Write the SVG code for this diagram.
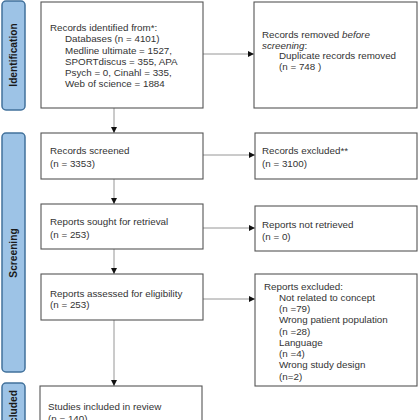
<svg xmlns="http://www.w3.org/2000/svg" width="420" height="420" viewBox="0 0 420 420">
<style>
.bar{fill:#9dc3e6;stroke:#41719c;stroke-width:1.5}
.bl{font-family:"Liberation Sans",Arial,sans-serif;font-weight:bold;font-size:10.2px;fill:#1a1a1a;text-anchor:middle}
.box{fill:#fff;stroke:#555;stroke-width:1.1}
.t{font-family:"Liberation Sans",Arial,sans-serif;font-size:9.8px;fill:#333}
.c{stroke:#8a8a8a;stroke-width:0.9;fill:none;marker-end:url(#ah)}
</style>
<defs>
<marker id="ah" markerUnits="userSpaceOnUse" markerWidth="7" markerHeight="6" refX="6" refY="3" orient="auto">
<path d="M0,0 L6,3 L0,6 Z" fill="#111"/>
</marker>
</defs>
<rect width="420" height="420" fill="#fff"/>
<g id="bar-identification"><rect class="bar" x="2" y="1" width="23" height="109" rx="4"/><text class="bl" transform="translate(17,55) rotate(-90)">Identification</text></g>
<g id="bar-screening"><rect class="bar" x="2" y="133" width="23" height="239" rx="4"/><text class="bl" transform="translate(17,253) rotate(-90)">Screening</text></g>
<g id="bar-included"><rect class="bar" x="2" y="383" width="23" height="60" rx="4"/><text class="bl" transform="translate(17,411) rotate(-90)">Included</text></g>

<g id="connectors">
<line class="c" x1="114" y1="108" x2="114" y2="133"/>
<line class="c" x1="114" y1="179" x2="114" y2="204"/>
<line class="c" x1="114" y1="249" x2="114" y2="274"/>
<line class="c" x1="114" y1="320" x2="114" y2="386"/>
<line class="c" x1="203" y1="54" x2="254" y2="54"/>
<line class="c" x1="203" y1="155" x2="255" y2="155"/>
<line class="c" x1="203" y1="228" x2="255" y2="228"/>
<line class="c" x1="203" y1="299" x2="255" y2="299"/>
</g>

<g id="identified"><rect class="box" x="41" y="2" width="162" height="106"/>
<text class="t" x="50" y="30.7">Records identified from*:</text>
<text class="t" x="65" y="42.2">Databases (n = 4101)</text>
<text class="t" x="65" y="53.5">Medline ultimate = 1527,</text>
<text class="t" x="65" y="64.8">SPORTdiscus = 355, APA</text>
<text class="t" x="65" y="76.1">Psych = 0, Cinahl = 335,</text>
<text class="t" x="65" y="87.4">Web of science = 1884</text>
</g>
<g id="removed"><rect class="box" x="254" y="2" width="163" height="106"/>
<text class="t" x="262" y="37.8">Records removed <tspan font-style="italic">before</tspan></text>
<text class="t" x="262" y="48.5"><tspan font-style="italic">screening</tspan>:</text>
<text class="t" x="279" y="59.2">Duplicate records removed</text>
<text class="t" x="279" y="69.9">(n = 748 )</text>
</g>
<g id="screened"><rect class="box" x="41" y="133" width="162" height="46"/>
<text class="t" x="50" y="154.2">Records screened</text>
<text class="t" x="50" y="166.7">(n = 3353)</text>
</g>
<g id="excluded"><rect class="box" x="255" y="133" width="162" height="46"/>
<text class="t" x="262" y="154.2">Records excluded**</text>
<text class="t" x="262" y="166.7">(n = 3100)</text>
</g>
<g id="sought"><rect class="box" x="41" y="204" width="162" height="45"/>
<text class="t" x="50" y="225.2">Reports sought for retrieval</text>
<text class="t" x="50" y="237.5">(n = 253)</text>
</g>
<g id="notretrieved"><rect class="box" x="255" y="206" width="162" height="45"/>
<text class="t" x="262" y="227.8">Reports not retrieved</text>
<text class="t" x="262" y="240.2">(n = 0)</text>
</g>
<g id="assessed"><rect class="box" x="41" y="274" width="162" height="46"/>
<text class="t" x="50" y="296.8">Reports assessed for eligibility</text>
<text class="t" x="50" y="307.8">(n = 253)</text>
</g>
<g id="reportsexcluded"><rect class="box" x="255" y="274" width="162" height="112"/>
<text class="t" x="264" y="289.5">Reports excluded:</text>
<text class="t" x="279" y="300.8">Not related to concept</text>
<text class="t" x="279" y="312">(n =79)</text>
<text class="t" x="279" y="323.3">Wrong patient population</text>
<text class="t" x="279" y="334.5">(n =28)</text>
<text class="t" x="279" y="345.8">Language</text>
<text class="t" x="279" y="357">(n =4)</text>
<text class="t" x="279" y="368.3">Wrong study design</text>
<text class="t" x="279" y="379.5">(n=2)</text>
</g>
<g id="included"><rect class="box" x="40" y="386" width="162" height="60"/>
<text class="t" x="48" y="409.5">Studies included in review</text>
<text class="t" x="48" y="421.5">(n = 140)</text>
</g>
</svg>
